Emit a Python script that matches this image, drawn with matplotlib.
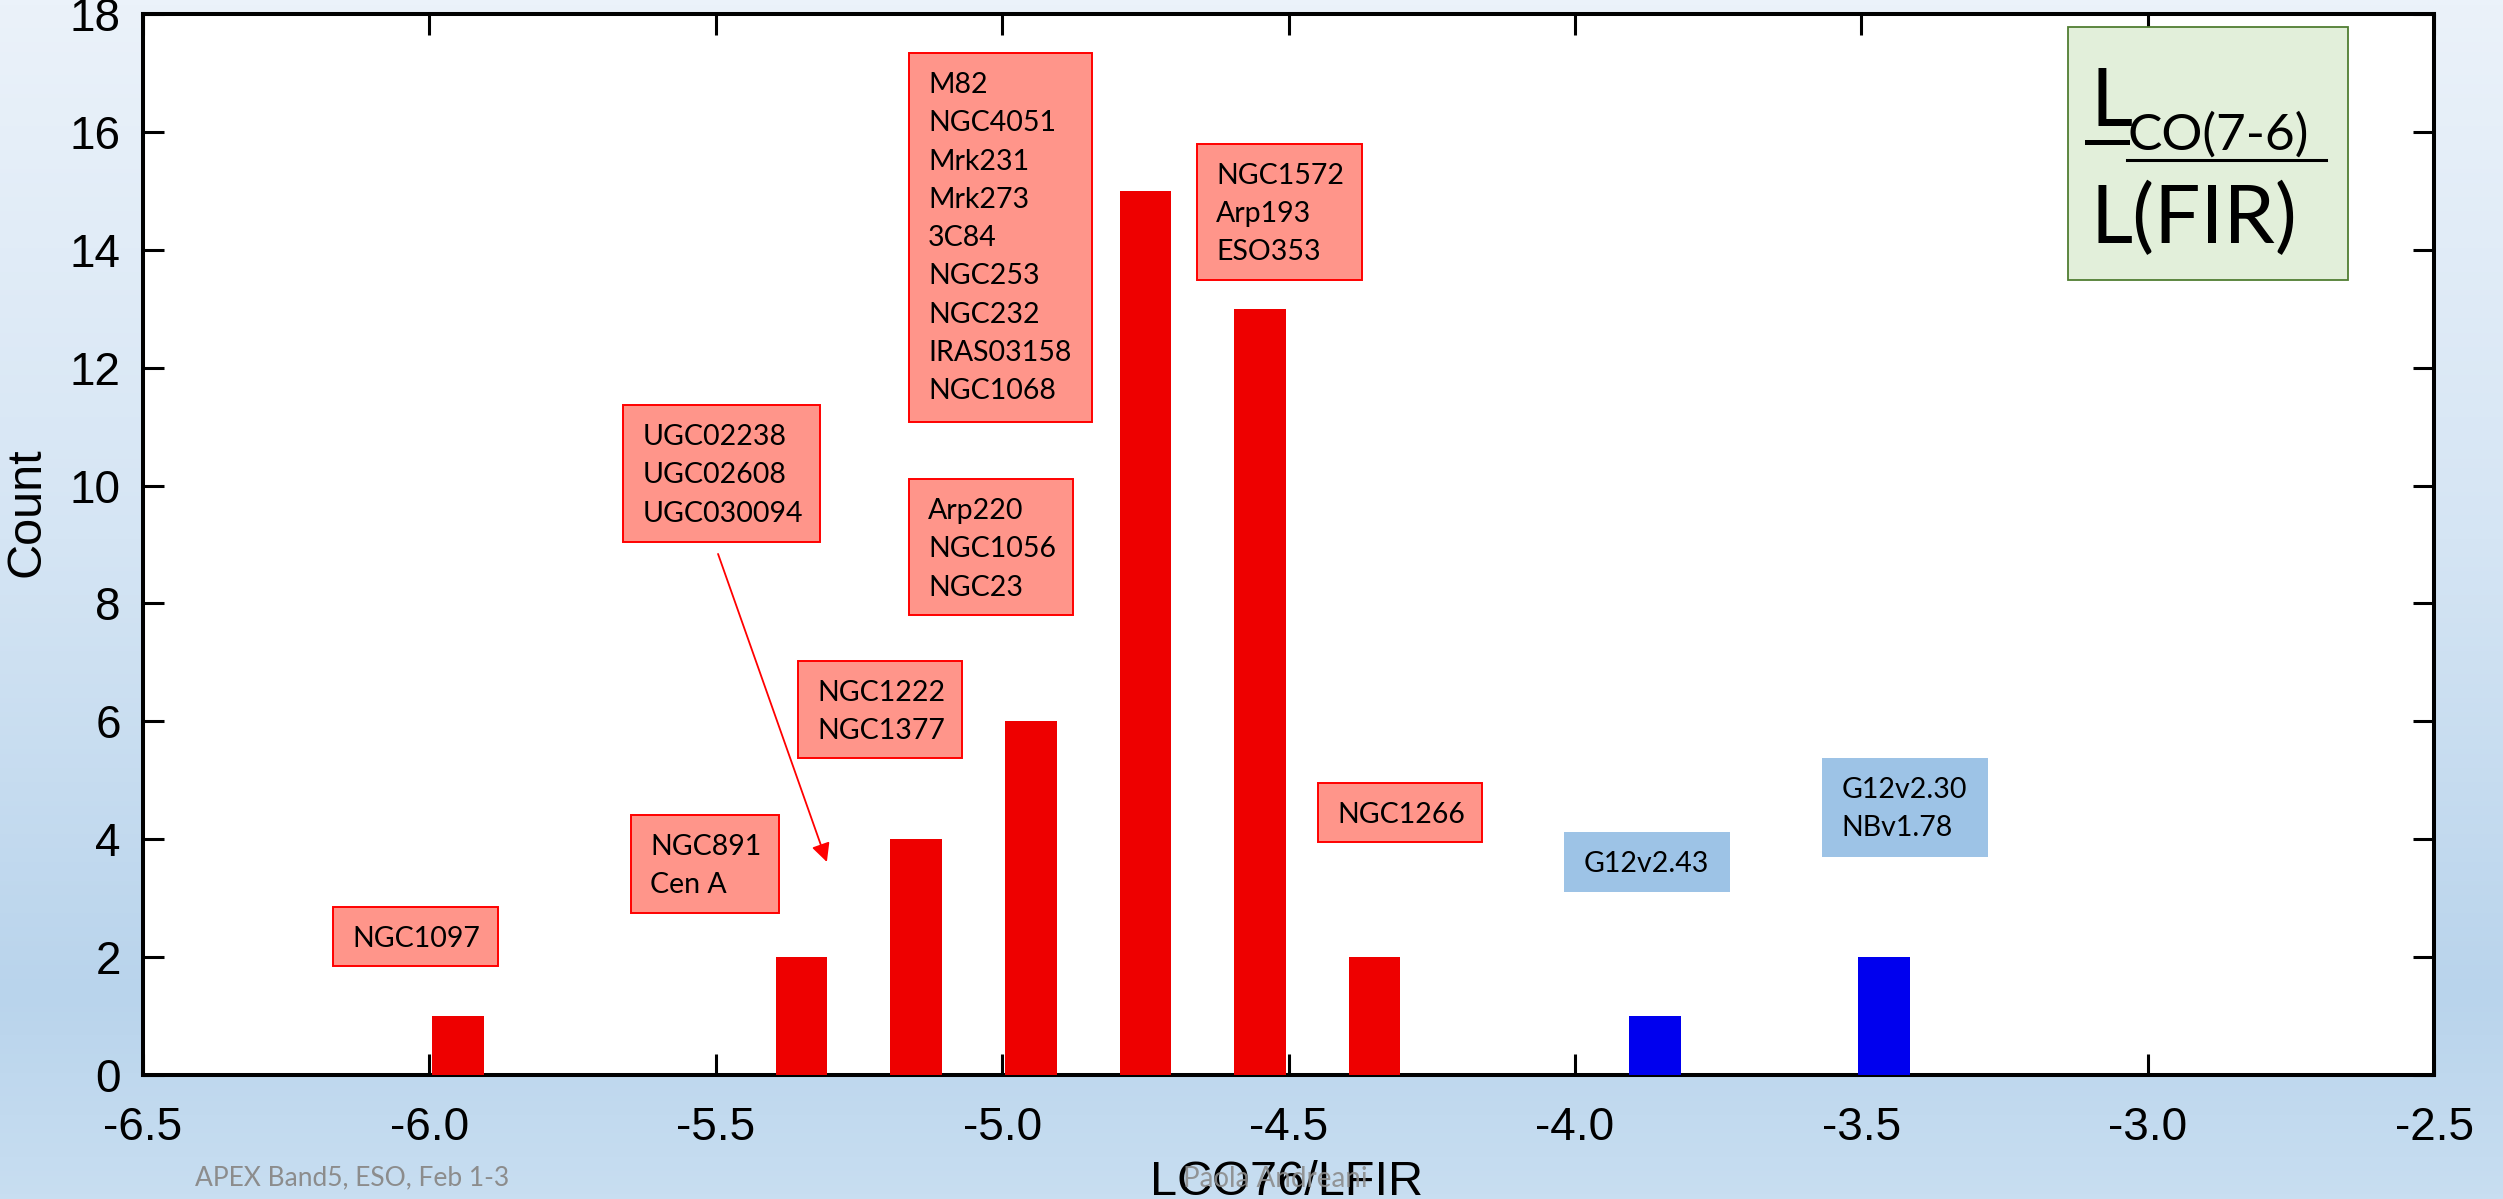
import numpy as np
import matplotlib
matplotlib.use("Agg")
import matplotlib.pyplot as plt
from matplotlib.patches import Rectangle
from matplotlib.lines import Line2D
from matplotlib.colors import LinearSegmentedColormap

# ---------------- data ----------------
red_bins = [-5.95, -5.35, -5.15, -4.95, -4.75, -4.55, -4.35]
red_counts = [1, 2, 4, 6, 15, 13, 2]
blue_bins = [-3.86, -3.46]
blue_counts = [1, 2]

x_ticks = [-6.5, -6.0, -5.5, -5.0, -4.5, -4.0, -3.5, -3.0, -2.5]
x_tick_labels = ["-6.5", "-6.0", "-5.5", "-5.0", "-4.5", "-4.0", "-3.5", "-3.0", "-2.5"]
y_ticks = [0, 2, 4, 6, 8, 10, 12, 14, 16, 18]

red_groups = [
    ["NGC1097"],
    ["NGC891", "Cen A"],
    ["UGC02238", "UGC02608", "UGC030094"],
    ["NGC1222", "NGC1377"],
    ["Arp220", "NGC1056", "NGC23"],
    ["M82", "NGC4051", "Mrk231", "Mrk273", "3C84", "NGC253", "NGC232", "IRAS03158", "NGC1068"],
    ["NGC1572", "Arp193", "ESO353"],
    ["NGC1266"],
]
blue_groups = [["G12v2.43"], ["G12v2.30", "NBv1.78"]]

# ---------------- layout (box extents in data units) ----------------
red_box_extent = [
    (-6.168, -5.880, 1.849, 2.850),
    (-5.648, -5.390, 2.749, 4.411),
    (-5.662, -5.318, 9.043, 11.368),
    (-5.356, -5.070, 5.378, 7.024),
    (-5.163, -4.876, 7.805, 10.112),
    (-5.163, -4.843, 11.079, 17.34),
    (-4.660, -4.372, 13.49, 15.80),
    (-4.449, -4.162, 3.953, 4.954),
]
blue_box_extent = [
    (-4.019, -3.729, 3.105, 4.123),
    (-3.569, -3.279, 3.699, 5.378),
]
arrow_start = (-5.496, 8.84)
arrow_end = (-5.306, 3.614)

W, H = 2503, 1199
DPI = 100
fig = plt.figure(figsize=(W / DPI, H / DPI), dpi=DPI)

# background gradient
bg = fig.add_axes([0, 0, 1, 1], zorder=-10)
cmap = LinearSegmentedColormap.from_list(
    "bg", [(0.0, "#EBF2FA"), (0.45, "#D5E5F4"), (0.83, "#B9D4EC"), (1.0, "#C8DEF1")])
grad = np.linspace(0, 1, 256).reshape(-1, 1)
bg.imshow(grad, aspect="auto", cmap=cmap, extent=[0, 1, 1, 0])
bg.set_axis_off()

ax = fig.add_axes([143 / W, 1 - 1075 / H, (2434 - 143) / W, (1075 - 14) / H])
ax.set_facecolor("white")

bar_width = 0.09
ax.bar(red_bins, red_counts, width=bar_width, color="#EE0000", zorder=3)
ax.bar(blue_bins, blue_counts, width=bar_width, color="#0000EE", zorder=3)

ax.set_xlim(-6.5, -2.5)
ax.set_ylim(0, 18)
ax.set_xticks(x_ticks)
ax.set_xticklabels(x_tick_labels)
ax.set_yticks(y_ticks)

tick_font = "Liberation Sans"
for lab in ax.get_xticklabels() + ax.get_yticklabels():
    lab.set_fontfamily(tick_font)
    lab.set_fontsize(33)
ax.tick_params(axis="both", direction="in", length=15, width=2.2, colors="black",
               top=True, right=True)
ax.tick_params(axis="x", pad=22)
ax.tick_params(axis="y", pad=16)
for s in ax.spines.values():
    s.set_linewidth(2.9)

box_font = "Lato"


def draw_box(extent, lines, face, edge, lw):
    x0, x1, y0, y1 = extent
    ax.add_patch(Rectangle((x0, y0), x1 - x0, y1 - y0, facecolor=face,
                           edgecolor=edge, linewidth=lw, zorder=4))
    for i, line in enumerate(lines):
        ax.annotate(line, xy=(x0, y1), xycoords="data",
                    xytext=(14, -(40 + i * 38.3) * 0.72), textcoords="offset points",
                    ha="left", va="baseline", fontsize=20.5, family=box_font,
                    color="black", zorder=5)


for ext, lines in zip(red_box_extent, red_groups):
    draw_box(ext, lines, "#FF958A", "#FF0000", 1.4)
for ext, lines in zip(blue_box_extent, blue_groups):
    draw_box(ext, lines, "#9DC3E6", "none", 0)

ax.annotate("", xy=arrow_end, xytext=arrow_start, xycoords="data",
            arrowprops=dict(arrowstyle="-|>", color="#FF0000", lw=1.3,
                            mutation_scale=28, shrinkA=0, shrinkB=0), zorder=5)


# green legend box (figure pixel coordinates)
def fx(px):
    return px / W


def fy(py):
    return 1 - py / H


fig.patches.append(Rectangle((fx(2068), fy(280)), (2348 - 2068) / W, (280 - 27) / H,
                             transform=fig.transFigure, facecolor="#E2EFDA",
                             edgecolor="#507E32", linewidth=1.3, zorder=6))
fig.text(fx(2090), fy(126), "L", fontsize=59, family=box_font, va="baseline",
         ha="left", zorder=7)
fig.text(fx(2128), fy(150), "CO(7-6)", fontsize=37, family=box_font, va="baseline",
         ha="left", zorder=7)
fig.add_artist(Line2D([fx(2087), fx(2127)], [fy(142), fy(142)], color="black",
                      lw=3.6, transform=fig.transFigure, zorder=7))
fig.add_artist(Line2D([fx(2127), fx(2326)], [fy(160), fy(160)], color="black",
                      lw=2.2, transform=fig.transFigure, zorder=7))
fig.text(fx(2090), fy(243), "L(FIR)", fontsize=59, family=box_font, va="baseline",
         ha="left", zorder=7)

# axis labels
fig.text(fx(27), fy(512), "Count", rotation=90, ha="center", va="center",
         fontsize=35, family=tick_font)
fig.text(fx(1287), fy(1195), "LCO76/LFIR", ha="center", va="baseline",
         fontsize=35, family=tick_font)

# footer
fig.text(fx(195), fy(1185), "APEX Band5, ESO, Feb 1-3", ha="left", va="baseline",
         fontsize=19, family=box_font, color="#8C8C8C")
fig.text(fx(1183), fy(1187), "Paola Andreani", ha="left", va="baseline",
         fontsize=20, family=box_font, color="#8C8C8C", alpha=0.9)

fig.savefig("out.png", dpi=DPI)
